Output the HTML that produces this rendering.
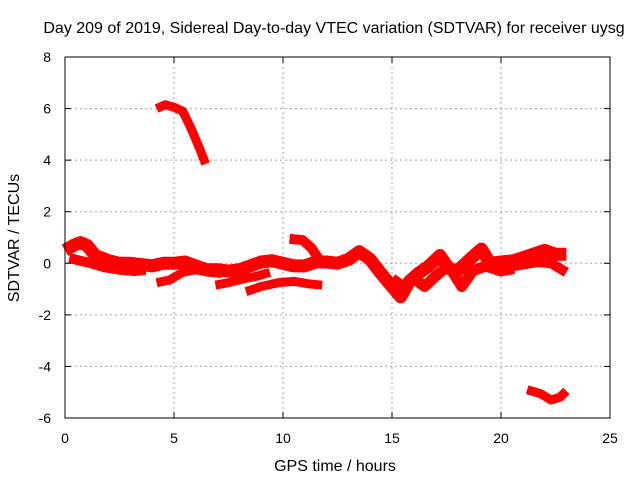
<!DOCTYPE html>
<html><head><meta charset="utf-8"><style>
body{margin:0;background:#fff}
svg text{font-family:"Liberation Sans",Arial,sans-serif;font-size:14px;fill:#000}
svg text.big{font-size:16px}
</style></head><body>
<svg id="chart" width="640" height="480" xmlns="http://www.w3.org/2000/svg">
<rect width="640" height="480" fill="#fff"/>
<g id="grid"></g>
<g id="series"></g>
<rect x="65" y="57" width="545" height="361" fill="none" stroke="#000" stroke-width="1"/>
<g id="ticks"></g>
<text class="big" x="334" y="33" text-anchor="middle">Day 209 of 2019, Sidereal Day-to-day VTEC variation (SDTVAR) for receiver uysg</text>
<text class="big" x="335" y="471" text-anchor="middle">GPS time / hours</text>
<text class="big" transform="translate(19,238) rotate(-90)" text-anchor="middle">SDTVAR / TECUs</text>
</svg>
<script>
const xTicks=[0,5,10,15,20,25];
const yTicks=[-6,-4,-2,0,2,4,6,8];
const seriesMain=[[0,0.5],[0.4,0.7],[0.7,0.8],[1.0,0.7],[1.4,0.3],[2.0,0.1],[2.5,0],[3.0,0],[3.5,-0.05],[4.0,-0.1],[4.5,0],[5.0,0],[5.5,0.05],[6.0,-0.1],[6.5,-0.25],[7.0,-0.25],[7.5,-0.3],[8.0,-0.25],[8.5,-0.1],[9.0,0.05],[9.5,0.1],[10.0,0],[10.5,-0.1],[11.0,-0.1],[11.5,0.05],[12.0,0.05],[12.5,0],[13.0,0.15],[13.5,0.45],[14.0,0.15],[14.5,-0.4],[15.0,-0.9],[15.4,-1.3],[15.8,-0.7],[16.2,-0.4],[16.7,-0.1],[17.2,0.3],[17.6,-0.2],[18.0,-0.3],[18.5,0.1],[19.1,0.55],[19.5,0],[20.0,0.05],[20.6,0.1],[21.3,0.3],[22.0,0.5],[22.5,0.35],[23.0,0.35]];
const seriesLow1=[[0.2,0.2],[0.7,0.1],[1.2,0],[1.8,-0.15],[2.5,-0.25],[3.2,-0.3],[3.7,-0.25]];
const seriesLow2=[[4.2,-0.75],[4.8,-0.65],[5.4,-0.35],[6.0,-0.25],[6.6,-0.35],[7.2,-0.4]];
const seriesLow3=[[6.9,-0.85],[7.5,-0.75],[8.2,-0.6],[8.8,-0.5],[9.4,-0.35]];
const seriesLow4=[[8.3,-1.1],[9.0,-0.9],[9.8,-0.75],[10.5,-0.7],[11.2,-0.8],[11.8,-0.85]];
const seriesHump=[[10.3,0.95],[10.9,0.9],[11.3,0.6],[11.7,0.1],[12.0,0]];
const seriesDip=[[15.0,-0.6],[15.5,-0.9],[16.0,-0.6],[16.5,-0.9],[17.0,-0.5],[17.6,-0.1],[18.2,-0.9],[18.7,-0.3],[19.3,-0.1],[20.0,-0.3],[20.6,-0.2]];
const seriesTail=[[19.5,-0.2],[20.3,-0.15],[21.0,-0.05],[21.7,0.05],[22.3,0],[23.0,-0.35]];
const seriesHigh=[[4.2,6.0],[4.6,6.15],[5.0,6.05],[5.4,5.9],[5.8,5.2],[6.2,4.4],[6.45,3.85]];
const seriesBottom=[[21.2,-4.9],[21.8,-5.05],[22.3,-5.3],[22.7,-5.2],[23.0,-4.95]];
const allSeries=[seriesMain,seriesLow1,seriesLow2,seriesLow3,seriesLow4,seriesHump,seriesDip,seriesTail,seriesHigh,seriesBottom];
const widths=[13,10,9,9,9,10,11,10,9,9];
const X=t=>65+t*(545/25);
const Y=v=>418-(v+6)*(361/14);
const NS="http://www.w3.org/2000/svg";
const grid=document.getElementById('grid'),ticks=document.getElementById('ticks'),ser=document.getElementById('series');
function mk(tag,attrs,parent){const e=document.createElementNS(NS,tag);for(const k in attrs)e.setAttribute(k,attrs[k]);parent.appendChild(e);return e;}
xTicks.forEach(t=>{
  if(t>0&&t<25){const g=mk('line',{x1:X(t),x2:X(t),y1:57,y2:418,stroke:'#a0a0a0','stroke-dasharray':'2,3'},grid);
  
  }
  const l=mk('text',{x:X(t),y:443,'text-anchor':'middle'},ticks);l.textContent=t;
  
  
  mk('line',{x1:X(t),x2:X(t),y1:418,y2:412,stroke:'#000'},ticks);
  mk('line',{x1:X(t),x2:X(t),y1:57,y2:63,stroke:'#000'},ticks);
});
yTicks.forEach(v=>{
  if(v>-6&&v<8){const g=mk('line',{x1:65,x2:610,y1:Y(v),y2:Y(v),stroke:'#a0a0a0','stroke-dasharray':'2,3'},grid);
  
  }
  const l=mk('text',{x:51,y:Y(v)+5,'text-anchor':'end'},ticks);l.textContent=v;
  
  
  mk('line',{x1:65,x2:71,y1:Y(v),y2:Y(v),stroke:'#000'},ticks);
  mk('line',{x1:610,x2:604,y1:Y(v),y2:Y(v),stroke:'#000'},ticks);
});
allSeries.forEach((s,i)=>{
  const p=mk('polyline',{points:s.map(d=>X(d[0])+','+Y(d[1])).join(' '),fill:'none',stroke:'#ff0000','stroke-width':widths[i],'stroke-linejoin':'round','stroke-linecap':'butt'},ser);
  
  
});
</script>
</body></html>
